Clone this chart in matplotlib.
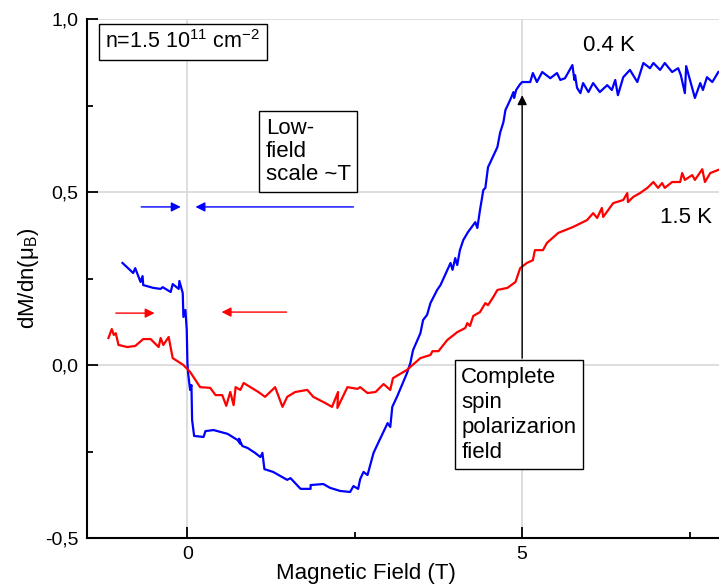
"""dM/dn vs magnetic field at 0.4 K and 1.5 K."""
import matplotlib
matplotlib.use("Agg")
import matplotlib.pyplot as plt
from matplotlib.ticker import FuncFormatter, MultipleLocator

plt.rcParams["font.family"] = ["Liberation Sans", "DejaVu Sans"]
plt.rcParams["mathtext.fontset"] = "custom"
plt.rcParams["mathtext.rm"] = "Liberation Sans"

# 0.4 K trace (blue)
B_04 = [-0.97, -0.81, -0.78, -0.70, -0.67, -0.66, -0.51, -0.40, -0.37, -0.25,
        -0.22, -0.13, -0.12, -0.07, -0.06, -0.03, -0.01, 0.00, 0.01, 0.04,
        0.06, 0.07, 0.10, 0.24, 0.27, 0.39, 0.60, 0.75, 0.79, 0.77, 0.82,
        0.90, 1.01, 1.09, 1.12, 1.15, 1.28, 1.49, 1.54, 1.69, 1.84, 1.84,
        2.03, 2.13, 2.28, 2.43, 2.48, 2.55, 2.58, 2.63, 2.69, 2.78, 2.85,
        2.99, 3.03, 3.06, 3.13, 3.28, 3.33, 3.37, 3.48, 3.52, 3.58, 3.63,
        3.73, 3.78, 3.93, 3.96, 4.00, 4.03, 4.07, 4.12, 4.19, 4.30, 4.33,
        4.37, 4.42, 4.45, 4.49, 4.52, 4.63, 4.67, 4.72, 4.75, 4.82, 4.87,
        4.88, 4.91, 4.97, 5.00, 5.12, 5.16, 5.22, 5.30, 5.42, 5.52, 5.57,
        5.64, 5.75, 5.78, 5.79, 5.82, 5.87, 5.91, 5.99, 6.06, 6.16, 6.27,
        6.34, 6.39, 6.43, 6.51, 6.61, 6.72, 6.81, 6.91, 6.96, 7.06, 7.13,
        7.24, 7.33, 7.37, 7.43, 7.45, 7.58, 7.66, 7.70, 7.76, 7.84, 7.93]
M_04 = [0.295, 0.266, 0.280, 0.240, 0.257, 0.231, 0.223, 0.220, 0.225, 0.211,
        0.234, 0.220, 0.243, 0.208, 0.139, 0.159, 0.101, 0.006, -0.023, -0.072,
        -0.058, -0.159, -0.205, -0.208, -0.191, -0.188, -0.199, -0.217, -0.228, -0.213, -0.234,
        -0.240, -0.254, -0.266, -0.254, -0.301, -0.309, -0.332, -0.327, -0.358, -0.358, -0.347,
        -0.344, -0.355, -0.364, -0.367, -0.350, -0.358, -0.330, -0.309, -0.318, -0.254, -0.225,
        -0.168, -0.179, -0.121, -0.092, -0.023, 0.006, 0.043, 0.092, 0.130, 0.145, 0.179,
        0.217, 0.231, 0.295, 0.275, 0.309, 0.289, 0.332, 0.361, 0.384, 0.413, 0.396,
        0.448, 0.506, 0.512, 0.572, 0.584, 0.630, 0.671, 0.702, 0.737, 0.766, 0.789,
        0.772, 0.795, 0.812, 0.818, 0.818, 0.844, 0.818, 0.847, 0.829, 0.844, 0.824,
        0.829, 0.867, 0.824, 0.838, 0.801, 0.786, 0.815, 0.789, 0.815, 0.789, 0.809,
        0.795, 0.824, 0.780, 0.832, 0.853, 0.818, 0.873, 0.858, 0.873, 0.853, 0.873,
        0.847, 0.858, 0.838, 0.786, 0.864, 0.772, 0.815, 0.795, 0.832, 0.818, 0.847]

# 1.5 K trace (red)
B_15 = [-1.18, -1.13, -1.10, -1.07, -1.03, -0.90, -0.78, -0.66, -0.55, -0.43,
        -0.40, -0.36, -0.28, -0.22, -0.06, 0.04, 0.19, 0.34, 0.42, 0.52,
        0.58, 0.64, 0.69, 0.72, 0.79, 0.84, 1.06, 1.16, 1.31, 1.42,
        1.49, 1.61, 1.79, 1.88, 2.06, 2.16, 2.25, 2.24, 2.39, 2.54,
        2.58, 2.69, 2.81, 2.93, 3.03, 3.07, 3.28, 3.48, 3.63, 3.66,
        3.75, 3.88, 4.03, 4.15, 4.18, 4.22, 4.27, 4.37, 4.45, 4.49,
        4.57, 4.63, 4.78, 4.90, 4.97, 5.07, 5.16, 5.19, 5.31, 5.37,
        5.54, 5.76, 5.97, 6.06, 6.12, 6.19, 6.21, 6.36, 6.51, 6.57,
        6.58, 6.66, 6.76, 6.87, 6.96, 7.03, 7.09, 7.13, 7.24, 7.36,
        7.39, 7.43, 7.54, 7.58, 7.69, 7.73, 7.81, 7.93]
M_15 = [0.078, 0.104, 0.087, 0.092, 0.058, 0.052, 0.055, 0.075, 0.075, 0.052,
        0.078, 0.058, 0.081, 0.020, 0.000, -0.020, -0.064, -0.066, -0.087, -0.087,
        -0.118, -0.078, -0.116, -0.064, -0.072, -0.052, -0.078, -0.092, -0.064, -0.121,
        -0.092, -0.078, -0.072, -0.092, -0.110, -0.121, -0.078, -0.124, -0.064, -0.069,
        -0.064, -0.081, -0.078, -0.055, -0.072, -0.038, -0.014, 0.020, 0.029, 0.040,
        0.040, 0.072, 0.095, 0.107, 0.121, 0.113, 0.142, 0.153, 0.179, 0.173,
        0.197, 0.217, 0.223, 0.240, 0.280, 0.295, 0.303, 0.332, 0.332, 0.353,
        0.382, 0.399, 0.419, 0.439, 0.425, 0.454, 0.428, 0.468, 0.477, 0.497,
        0.471, 0.486, 0.497, 0.512, 0.529, 0.512, 0.526, 0.512, 0.529, 0.529,
        0.555, 0.535, 0.549, 0.535, 0.566, 0.529, 0.555, 0.564]

B_SAT = 5.0  # complete spin polarization field


def arrow(ax, x0, x1, y0, y1, color):
    ax.annotate("", xy=(x1, y1), xytext=(x0, y0),
                arrowprops=dict(arrowstyle="-|>", color=color, lw=1.0,
                                mutation_scale=14, shrinkA=0, shrinkB=0))


def main():
    fig = plt.figure(figsize=(7.19, 5.87), dpi=100)
    ax = fig.add_axes([0.121, 0.0835, 0.879, 0.884])

    ax.plot(B_04, M_04, color="#0000ff", lw=1.6, zorder=3)
    ax.plot(B_15, M_15, color="#ff0000", lw=1.6, zorder=3)

    ax.set_xlim(-1.5, 7.94)
    ax.set_ylim(-0.5, 1.0)
    ax.xaxis.set_major_locator(MultipleLocator(5))
    ax.xaxis.set_minor_locator(MultipleLocator(2.5))
    ax.yaxis.set_major_locator(MultipleLocator(0.5))
    ax.yaxis.set_minor_locator(MultipleLocator(0.25))
    ax.yaxis.set_major_formatter(FuncFormatter(lambda v, _: f"{v:.1f}".replace(".", ",")))
    ax.xaxis.set_major_formatter(FuncFormatter(lambda v, _: f"{v:g}"))
    ax.tick_params(which="both", direction="in", width=1.3, labelsize=14, pad=6)
    ax.tick_params(which="major", length=8)
    ax.tick_params(which="minor", length=4)
    for s in ("top", "right"):
        ax.spines[s].set_visible(False)
    for s in ("left", "bottom"):
        ax.spines[s].set_linewidth(1.5)
    ax.grid(True, which="major", color="#d8d8d8", lw=1.2, zorder=0)

    ax.set_xlabel("Magnetic Field (T)", fontsize=16)
    ax.xaxis.set_label_coords(0.441, -0.048)
    ax.set_ylabel("dM/dn(μ$_\\mathrm{B}$)", fontsize=16)
    ax.yaxis.set_label_coords(-0.072, 0.5)

    box = dict(boxstyle="square,pad=0.3", fc="white", ec="black", lw=1.0)
    ax.text(-1.23, 0.968, "n=1.5 10$^{11}$ cm$^{-2}$", fontsize=15.5,
            va="top", ha="left", bbox=box)
    ax.text(1.17, 0.715, "Low-\nfield\nscale ~T", fontsize=16,
            va="top", ha="left", bbox=box, linespacing=1.15)
    ax.text(4.09, -0.005, "Complete\nspin\npolarizarion\nfield", fontsize=16,
            va="top", ha="left", bbox=box, linespacing=1.25, zorder=5)
    ax.text(5.91, 0.925, "0.4 K", fontsize=16, va="center", ha="left")
    ax.text(7.06, 0.425, "1.5 K", fontsize=16, va="center", ha="left")

    arrow(ax, -0.69, -0.10, 0.457, 0.457, "#0000ff")
    arrow(ax, 2.48, 0.12, 0.457, 0.457, "#0000ff")
    arrow(ax, -1.07, -0.49, 0.150, 0.150, "#ff0000")
    arrow(ax, 1.48, 0.51, 0.153, 0.153, "#ff0000")
    arrow(ax, B_SAT, B_SAT, 0.02, 0.78, "black")

    fig.savefig("out.png", dpi=100)


if __name__ == "__main__":
    main()
